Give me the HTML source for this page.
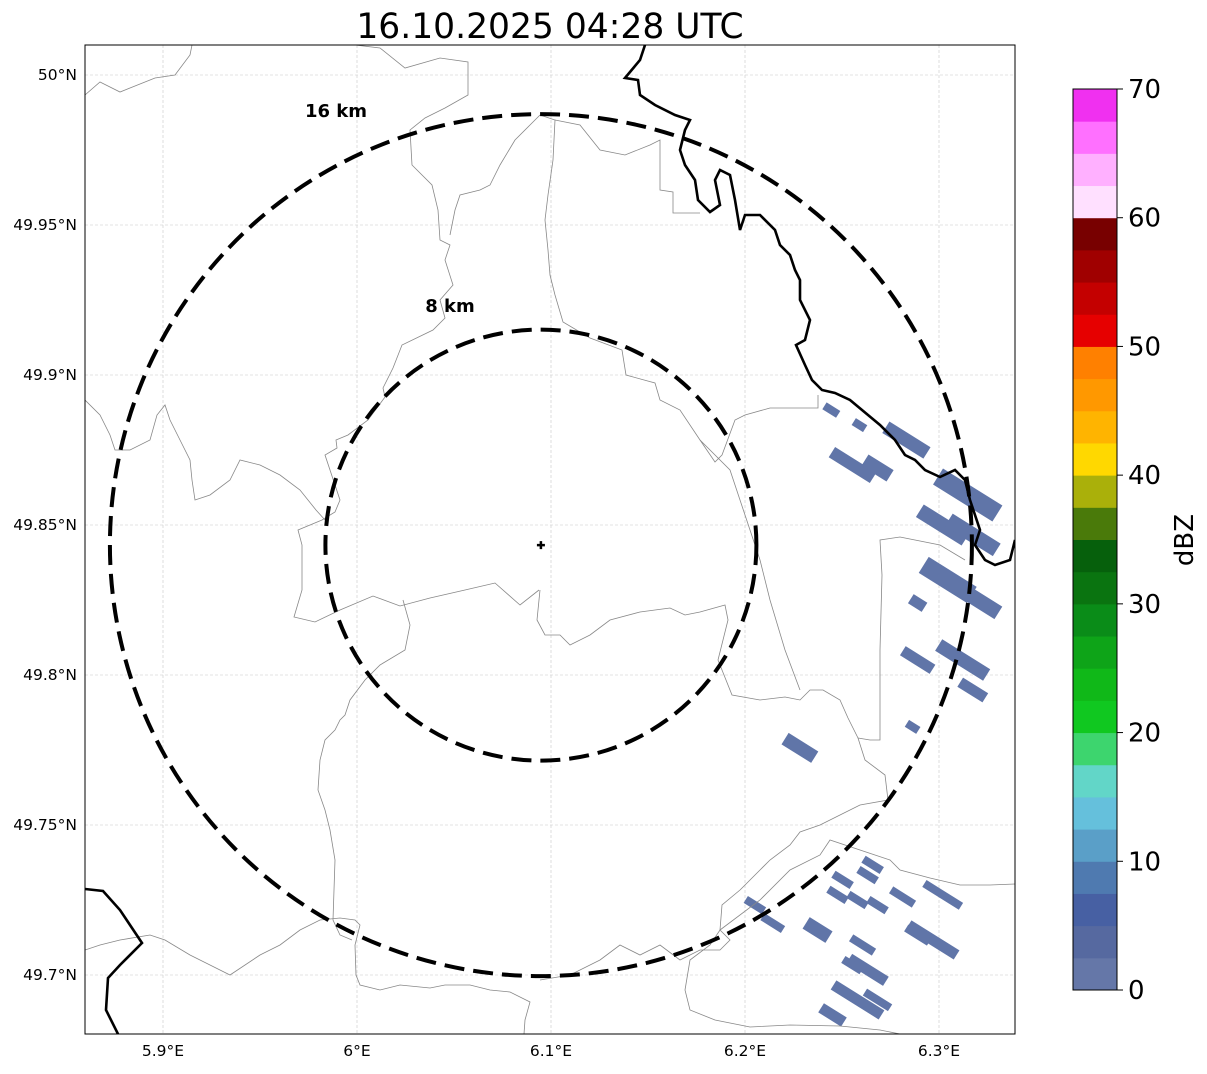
<!DOCTYPE html>
<html><head><meta charset="utf-8"><style>
body{margin:0;background:#fff;}
svg text{font-family:"DejaVu Sans","Liberation Sans",sans-serif;}
</style></head><body>
<svg id="chart" width="1207" height="1069" viewBox="0 0 1207 1069" xmlns="http://www.w3.org/2000/svg">
<text x="550" y="38" font-size="34.5" text-anchor="middle">16.10.2025 04:28 UTC</text>
<defs><clipPath id="mapclip"><rect x="85" y="45" width="930" height="989"/></clipPath></defs>
<g id="grid"></g>
<g clip-path="url(#mapclip)">
<g id="echoes"></g>
<g fill="none" stroke="#888" stroke-width="0.8">
<path d="M85,95 L100,82 L120,92 L155,78 L175,75 L190,55 L192,45"/>
<path d="M355,45 L380,48 L405,68 L440,58 L468,62 L468,95 L445,108 L425,118 L410,130 L412,165 L432,185 L438,210 L440,240 L450,245 L445,260 L453,285 L440,300 L445,318 L433,330 L402,345 L393,368 L383,388 L385,397 L368,420 L348,435 L336,440 L337,448 L325,455 L340,500 L335,512 L322,520 L298,530 L302,545 L302,590 L294,617 L315,622 L340,610 L373,596 L400,606 L430,598 L465,590 L495,583 L520,605 L539,590"/>
<path d="M85,400 L100,415 L110,435 L115,450 L130,450 L150,440 L157,415 L165,405 L170,420 L180,440 L190,460 L192,480 L195,500 L210,495 L230,480 L240,460 L260,465 L280,475 L300,490 L316,510 L325,520"/>
<path d="M540,115 L530,125 L515,140 L500,165 L490,185 L480,190 L460,195 L455,210 L450,235"/>
<path d="M540,115 L555,120 L553,160 L548,195 L545,220 L548,250 L550,275 L555,295 L563,322 L590,338 L622,350 L626,375 L655,383 L660,400 L680,410 L700,440 L715,462 L722,455 L735,420 L745,415 L770,408 L818,408 L818,395"/>
<path d="M555,120 L580,125 L600,150 L625,155 L650,145 L660,140 L660,190 L673,192 L673,213 L700,213"/>
<path d="M403,600 L410,625 L405,650 L380,665 L365,680 L350,700 L345,715 L340,720 L335,730 L325,740 L320,760 L318,790 L325,810 L330,830 L335,860 L333,920 L340,935 L352,940"/>
<path d="M540,590 L537,620 L545,635 L560,635 L570,645 L590,635 L610,620 L640,612 L670,608 L685,615 L700,612 L725,605 L728,620 L718,660 L732,695 L760,700 L785,697 L800,700 L810,690 L823,690 L840,700 L848,718 L858,738 L865,760 L885,775 L888,800 L860,805 L840,815 L820,825 L800,832 L790,845 L770,860 L760,870 L740,890 L722,905 L720,930"/>
<path d="M700,440 L730,470 L740,500 L760,560 L770,600 L785,650 L800,690"/>
<path d="M858,738 L870,740 L880,740 L880,720 L880,650 L882,575 L880,540 L900,537 L940,545 L965,560"/>
<path d="M85,950 L100,945 L120,940 L150,935 L165,940 L190,955 L210,965 L230,975 L260,955 L280,945 L300,930 L320,920 L340,918 L355,920 L360,925 L355,945 L356,975 L360,985 L380,990 L400,985 L430,988 L445,985 L470,985 L490,990 L510,992 L530,1002 L525,1020 L524,1034"/>
<path d="M540,980 L570,975 L600,960 L620,945 L640,955 L660,945 L680,960 L700,950 L720,950 L730,940 L720,930 L710,945 L690,960 L685,990 L690,1010 L715,1020 L750,1027 L790,1025 L840,1026 L860,1028 L880,1030 L900,1034"/>
<path d="M720,930 L760,900 L790,870 L820,855 L830,840 L860,850 L890,860 L900,870 L930,878 L960,885 L990,885 L1015,884"/>
</g>
<g fill="none" stroke="#000" stroke-width="2.6">
<path d="M645,45 L640,60 L630,72 L625,78 L638,80 L640,95 L655,105 L675,115 L690,120 L685,130 L680,150 L685,165 L695,180 L698,200 L710,212 L720,205 L715,180 L720,170 L730,175 L735,200 L740,230 L745,215 L760,215 L775,230 L780,245 L790,255 L795,270 L800,280 L800,300 L810,320 L805,340 L796,345 L805,365 L812,380 L822,390 L835,393 L850,400 L868,415 L880,425 L895,440 L905,455 L915,460 L925,470 L940,477 L955,470 L965,480 L970,500 L975,515 L980,530 L975,545 L985,560 L995,565 L1010,560 L1015,540"/>
<path d="M85,889 L103,891 L120,910 L142,943 L120,965 L108,978 L106,1010 L118,1034"/>
</g>
<g id="rings"></g>
</g>
<rect x="85" y="45" width="930" height="989" fill="none" stroke="#000" stroke-width="1"/>
<g id="axes" font-size="15.5"></g>
<g id="cbar"></g>
<text font-size="26" transform="translate(1193,540) rotate(-90)" text-anchor="middle">dBZ</text>
</svg>
<script>
const lonTicks=[5.9,6.0,6.1,6.2,6.3];
const lonLabels=["5.9°E","6°E","6.1°E","6.2°E","6.3°E"];
const latTicks=[50.0,49.95,49.9,49.85,49.8,49.75,49.7];
const latLabels=["50°N","49.95°N","49.9°N","49.85°N","49.8°N","49.75°N","49.7°N"];
const radarLon=6.0948, radarLat=49.8433;
const ringKm=[8,16];
const cbLevels=[0,2.5,5,7.5,10,12.5,15,17.5,20,22.5,25,27.5,30,32.5,35,37.5,40,42.5,45,47.5,50,52.5,55,57.5,60,62.5,65,67.5];
const cbColors=["#6577a8","#5669a0","#4760a3","#4f7ab0","#5a9fc8","#65c0dc","#62d6c8","#3dd56e","#10c820","#10b818","#0ea418","#0a8c18","#0a7410","#06600c","#4a7a0a","#aab00a","#ffd800","#ffb400","#ff9800","#ff8000","#e60000","#c40000","#a00000","#780000","#ffe0ff","#ffb0ff","#ff70ff","#f030f0"];
const cbTicks=[0,10,20,30,40,50,60,70];
// echo cells: lon, lat, length(km), width(km)
const echoLon=[6.2445,6.2590,6.2832,6.2554,6.2683,6.3148,6.3019,6.3174,6.3045,6.3200,6.2890,6.2890,6.3122,6.3174,6.2864,6.2283,6.2503,6.2632,6.2658,6.2477,6.2580,6.2683,6.2812,6.3019,6.2051,6.2143,6.2374,6.2606,6.2967,6.2890,6.2632,6.2554,6.2580,6.2451,6.2683];
const echoLat=[49.8883,49.8833,49.8783,49.8700,49.8690,49.8600,49.8500,49.8467,49.8317,49.8250,49.8240,49.8050,49.8050,49.7950,49.7827,49.7757,49.7317,49.7333,49.7367,49.7267,49.7250,49.7233,49.7260,49.7267,49.7233,49.7173,49.7150,49.7100,49.7117,49.7133,49.7017,49.7033,49.6917,49.6867,49.6917];
const echoLen=[0.6,0.5,1.8,1.8,1.1,2.6,2.0,2.1,2.1,1.8,0.6,1.3,2.1,1.1,0.5,1.3,0.8,0.8,0.8,0.8,0.8,0.8,1.0,1.6,0.8,0.9,1.0,1.0,2.1,1.0,1.6,0.8,2.1,1.0,1.1];
const echoWid=[0.3,0.3,0.5,0.45,0.5,0.7,0.55,0.55,0.7,0.55,0.4,0.4,0.5,0.4,0.3,0.5,0.3,0.3,0.3,0.3,0.3,0.3,0.3,0.3,0.3,0.3,0.5,0.3,0.4,0.3,0.4,0.3,0.4,0.4,0.3];

const NS="http://www.w3.org/2000/svg";
const X0=85,X1=1015,Y0=45,Y1=1034;
const xS=lon=>163+(lon-5.9)*1940;
const yS=lat=>75+(50-lat)*3000;
const pxPerKm=431/16;
function mk(tag,attrs,parent){const e=document.createElementNS(NS,tag);for(const k in attrs)e.setAttribute(k,attrs[k]);parent.appendChild(e);return e;}
const grid=document.getElementById('grid'),axes=document.getElementById('axes');
lonTicks.forEach((v,i)=>{const x=xS(v);
 const l=mk('line',{x1:x,x2:x,y1:Y0,y2:Y1,stroke:'#c8c8c8','stroke-width':0.6,'stroke-dasharray':'3,2'},grid);
 
 
 const t=mk('text',{x:x,y:1056,'text-anchor':'middle'},axes);t.textContent=lonLabels[i];
 
 
});
latTicks.forEach((v,i)=>{const y=yS(v);
 const l=mk('line',{x1:X0,x2:X1,y1:y,y2:y,stroke:'#c8c8c8','stroke-width':0.6,'stroke-dasharray':'3,2'},grid);
 
 
 const t=mk('text',{x:77,y:y+5,'text-anchor':'end'},axes);t.textContent=latLabels[i];
 
 
});
const echoes=document.getElementById('echoes');
echoLon.forEach((lon,i)=>{const cx=xS(lon),cy=yS(echoLat[i]);const L=echoLen[i]*pxPerKm,W=echoWid[i]*pxPerKm;
 const r=mk('rect',{x:cx-L/2,y:cy-W/2,width:L,height:W,fill:'#6075a8',transform:`rotate(32 ${cx} ${cy})`},echoes);
 
 
});
const rings=document.getElementById('rings');const rcx=xS(radarLon),rcy=yS(radarLat);
const labelPos={8:[450,312],16:[336,117]};
ringKm.forEach(km=>{const r=km*pxPerKm;
 const c=mk('circle',{cx:rcx,cy:rcy,r:r,fill:'none',stroke:'#000','stroke-width':4,'stroke-dasharray':'20,9'},rings);
 
 
 const t=mk('text',{x:labelPos[km][0],y:labelPos[km][1],'font-size':18,'font-weight':'bold','text-anchor':'middle'},rings);
 t.textContent=km+' km';
 
 
});
const cross=mk('path',{d:`M${rcx-4},${rcy} H${rcx+4} M${rcx},${rcy-4} V${rcy+4}`,stroke:'#000','stroke-width':2.5},rings);


const cb=document.getElementById('cbar');const cbY0=990,cbY1=89,cbX=1073,cbW=44;
const cyS=v=>cbY0-(v/70)*(cbY0-cbY1);
cbLevels.forEach((v,i)=>{const ya=cyS(v+2.5),yb=cyS(v);
 const r=mk('rect',{x:cbX,y:ya,width:cbW,height:yb-ya+0.5,fill:cbColors[i]},cb);
 
 
});
mk('rect',{x:cbX,y:cbY1,width:cbW,height:cbY0-cbY1,fill:'none',stroke:'#000','stroke-width':1},cb);
cbTicks.forEach(v=>{const y=cyS(v);
 mk('line',{x1:cbX+cbW,x2:cbX+cbW+6,y1:y,y2:y,stroke:'#000'},cb);
 const t=mk('text',{x:1128,y:y+9,'font-size':26},cb);t.textContent=v;
 
 
});
</script>
</body></html>
